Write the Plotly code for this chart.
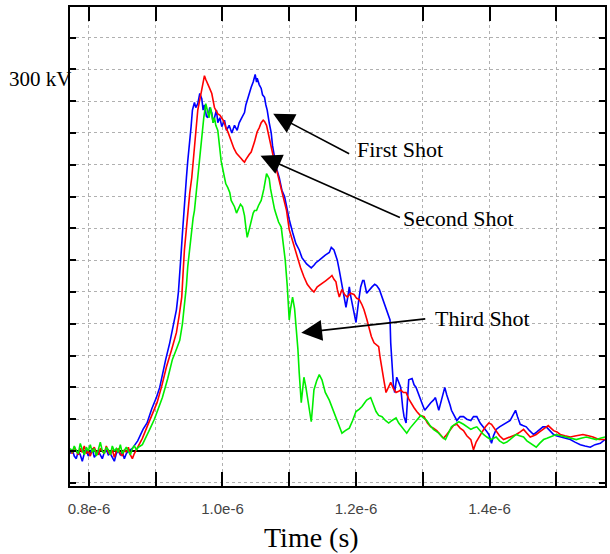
import plotly.graph_objects as go

# ---------------- data (time in ns, voltage in kV) ----------------
blue_t = [772, 775, 778, 781, 784, 787, 790, 793, 796, 799, 802, 805, 808, 811, 814, 817,
          820, 823, 826, 829, 832, 835, 838, 841, 844, 847, 850, 853, 856, 859, 862, 865,
          869, 873, 881, 887, 894, 901, 906, 910, 915, 921, 926, 931, 934, 936, 938, 940,
          943, 946, 948, 951, 953, 955, 958, 960, 963, 966, 969, 971, 973, 976, 978, 981,
          984, 986, 988, 991, 993, 996, 999, 1003, 1006, 1010, 1014, 1018, 1022, 1025, 1029, 1033,
          1035, 1037, 1040, 1043, 1046, 1049, 1051, 1052, 1055, 1058, 1060, 1063, 1065, 1067, 1070, 1073,
          1075, 1078, 1081, 1085, 1089, 1093, 1097, 1100, 1105, 1110, 1115, 1119, 1126, 1133, 1137, 1140,
          1145, 1149, 1154, 1160, 1163, 1167, 1172, 1175, 1178, 1180, 1182, 1185, 1188, 1190, 1192, 1194,
          1197, 1200, 1204, 1207, 1210, 1212, 1216, 1220, 1224, 1228, 1231, 1235, 1237, 1240, 1242, 1246,
          1251, 1252, 1254, 1256, 1258, 1261, 1264, 1267, 1270, 1272, 1275, 1277, 1279, 1284, 1287, 1290,
          1294, 1297, 1300, 1303, 1307, 1312, 1316, 1319, 1322, 1324, 1328, 1333, 1336, 1339, 1341, 1343,
          1347, 1351, 1356, 1361, 1366, 1372, 1376, 1381, 1386, 1391, 1395, 1399, 1403, 1406, 1410, 1415,
          1421, 1426, 1431, 1435, 1439, 1442, 1446, 1450, 1455, 1460, 1466, 1471, 1476, 1480, 1485, 1490,
          1496, 1500, 1506, 1512, 1521, 1528, 1536, 1543, 1551, 1558, 1566, 1573]
blue_kv = [-2, 1, -4, -6, 0, -3, -8, -2, 1, -4, -1, 2, -5, -2, 0, -3,
           -6, -1, 1, -3, -2, -5, -8, -2, 0, -3, -1, -6, -2, 0, 1, 2,
           5, 8, 17, 22, 33, 42, 50, 61, 72, 85, 97, 111, 125, 137, 155, 171,
           197, 215, 228, 242, 255, 268, 274, 270, 273, 281, 277, 268, 272, 263, 262, 270,
           266, 258, 262, 268, 258, 262, 255, 260, 252, 256, 250, 256, 252, 258, 262, 266,
           272, 276, 280, 286, 290, 296, 290, 293, 288, 285, 280, 278, 272, 268, 258, 250,
           240, 231, 222, 215, 205, 200, 189, 182, 172, 163, 158, 152, 147, 144, 146, 148,
           150, 152, 154, 156, 160, 158, 150, 142, 134, 126, 121, 113, 122, 129, 122, 116,
           108, 101, 118, 129, 134, 134, 124, 127, 129, 131, 130, 127, 124, 119, 116, 111,
           103, 85, 64, 52, 46, 58, 54, 50, 34, 27, 22, 40, 56, 57, 52, 50,
           45, 40, 36, 32, 35, 38, 40, 42, 36, 32, 40, 50, 44, 40, 36, 32,
           28, 24, 27, 27, 25, 24, 27, 27, 22, 19, 16, 13, 6, 12, 17, 19,
           21, 23, 24, 28, 32, 27, 21, 20, 19, 16, 13, 15, 17, 19, 19, 16,
           13, 12, 11, 10, 9, 7, 5, 4, 3, 5, 6, 9]

red_t = [772, 775, 778, 781, 784, 787, 790, 793, 796, 799, 802, 805, 808, 811, 814, 817,
         820, 823, 826, 829, 832, 835, 838, 841, 844, 847, 850, 853, 856, 859, 862, 865,
         868, 871,
         875, 880, 887, 894, 902, 909, 916, 924, 931, 935, 939, 941, 943, 946, 948, 951,
         954, 956, 958, 960, 963, 966, 969, 971, 973, 975, 978, 980, 984, 986, 988, 990,
         993, 996, 999, 1001, 1003, 1005, 1008, 1011, 1013, 1017, 1021, 1025, 1028, 1031, 1033, 1035,
         1037, 1040, 1043, 1046, 1048, 1050, 1052, 1055, 1058, 1061, 1063, 1066, 1069, 1072, 1075, 1078,
         1081, 1085, 1088, 1092, 1096, 1100, 1106, 1112, 1117, 1122, 1127, 1133, 1137, 1142, 1148, 1155,
         1160, 1164, 1167, 1170, 1172, 1175, 1177, 1179, 1183, 1187, 1192, 1197, 1201, 1205, 1209, 1212,
         1216, 1219, 1223, 1227, 1231, 1234, 1236, 1239, 1242, 1245, 1249, 1252, 1256, 1260, 1264, 1267,
         1271, 1275, 1279, 1282, 1287, 1291, 1296, 1302, 1307, 1312, 1316, 1321, 1326, 1331, 1336, 1342,
         1346, 1351, 1356, 1361, 1366, 1372, 1376, 1380, 1384, 1389, 1394, 1399, 1403, 1407, 1410, 1415,
         1421, 1426, 1431, 1436, 1440, 1446, 1451, 1456, 1461, 1466, 1470, 1475, 1481, 1488, 1492, 1496,
         1501, 1506, 1513, 1521, 1530, 1540, 1548, 1555, 1564, 1573]
red_kv = [1, -2, 3, 0, -3, 2, -1, 4, -2, 0, -4, 1, 3, -1, -3, 2,
          0, -2, 4, -1, -3, 1, -5, 0, 2, -2, -4, 1, -1, 3, -3, -6,
          -2, 1,
          4, 10, 19, 28, 38, 51, 66, 80, 93, 106, 121, 140, 158, 175, 189, 203,
          215, 228, 242, 255, 268, 276, 284, 290, 295, 292, 289, 286, 281, 275, 270, 268,
          265, 264, 262, 260, 258, 254, 251, 247, 243, 238, 234, 232, 230, 228, 227, 229,
          231, 233, 235, 239, 243, 247, 251, 254, 258, 260, 259, 256, 248, 241, 234, 227,
          221, 213, 205, 197, 189, 174, 163, 152, 144, 137, 131, 127, 125, 129, 131, 134,
          136, 138, 135, 133, 127, 121, 124, 127, 123, 121, 124, 123, 120, 119, 115, 111,
          104, 97, 90, 85, 83, 82, 74, 66, 55, 46, 50, 54, 49, 46, 47, 48,
          46, 46, 41, 38, 34, 31, 28, 27, 22, 19, 18, 16, 13, 10, 13, 17,
          20, 21, 18, 16, 12, 9, 1, 7, 11, 15, 19, 22, 21, 18, 16, 12,
          9, 10, 11, 12, 13, 15, 17, 14, 11, 12, 13, 15, 17, 20, 18, 16,
          15, 13, 12, 11, 12, 13, 12, 11, 9, 9]

green_t = [772, 775, 778, 781, 784, 787, 790, 793, 796, 799, 802, 805, 808, 811, 814, 817,
           820, 823, 826, 829, 832, 835, 838, 841, 844, 847, 850, 853, 856, 859, 862, 865,
           868, 871, 874,
           880, 886, 891, 898, 904, 910, 918, 925, 931, 936, 940, 943, 946, 948, 951, 954,
           956, 958, 961, 963, 966, 969, 970, 972, 975, 977, 980, 982, 984, 986, 988, 990,
           993, 995, 998, 1003, 1005, 1008, 1011, 1013, 1016, 1018, 1021, 1024, 1027, 1030, 1033, 1035,
           1037, 1040, 1043, 1046, 1048, 1051, 1054, 1058, 1062, 1066, 1068, 1070, 1072, 1075, 1078, 1081,
           1084, 1088, 1091, 1094, 1097, 1100, 1102, 1105, 1108, 1110, 1113, 1115, 1118, 1120, 1122, 1125,
           1127, 1130, 1133, 1135, 1137, 1141, 1145, 1149, 1154, 1160, 1165, 1170, 1175, 1179, 1184, 1190,
           1195, 1200, 1205, 1209, 1213, 1216, 1222, 1226, 1230, 1234, 1239, 1244, 1249, 1254, 1260, 1264,
           1269, 1276, 1281, 1287, 1292, 1297, 1301, 1306, 1311, 1316, 1324, 1329, 1334, 1339, 1343, 1348,
           1354, 1361, 1366, 1372, 1376, 1381, 1386, 1391, 1396, 1402, 1406, 1410, 1415, 1421, 1426, 1431,
           1436, 1440, 1445, 1451, 1456, 1461, 1466, 1470, 1475, 1481, 1486, 1491, 1496, 1500, 1507, 1515,
           1522, 1530, 1537, 1545, 1552, 1560, 1566, 1573]
green_kv = [2, -1, 4, 0, -2, 6, 1, -3, 3, 0, 5, -1, 2, -4, 1, 7,
            0, -2, 3, 1, -3, 4, 0, 2, -1, 5, -2, 1, 3, 0, -3, 2,
            4, 1, 3,
            5, 11, 17, 25, 33, 42, 57, 72, 80, 87, 100, 113, 130, 145, 160, 176,
            183, 189, 205, 215, 229, 242, 252, 262, 273, 268, 262, 270, 265, 258, 262, 256,
            252, 240, 228, 215, 210, 207, 203, 197, 194, 192, 187, 190, 194, 192, 185, 176,
            168, 174, 182, 187, 189, 189, 193, 197, 206, 218, 216, 214, 206, 197, 190, 185,
            180, 176, 163, 150, 130, 103, 112, 121, 112, 100, 80, 61, 38, 48, 58, 50,
            44, 33, 23, 35, 48, 55, 60, 56, 46, 40, 33, 27, 20, 14, 16, 18,
            24, 31, 33, 35, 38, 40, 42, 36, 31, 28, 27, 24, 22, 24, 26, 22,
            19, 14, 18, 22, 25, 28, 26, 24, 20, 17, 14, 11, 9, 14, 19, 21,
            23, 21, 19, 17, 18, 19, 16, 13, 11, 9, 10, 11, 8, 6, 7, 9,
            11, 13, 12, 11, 8, 6, 4, 3, 6, 9, 10, 11, 12, 13, 12, 11,
            10, 9, 10, 11, 10, 9, 10, 11]

x_tick_vals = [0.8e-6, 0.9e-6, 1.0e-6, 1.1e-6, 1.2e-6, 1.3e-6, 1.4e-6, 1.5e-6]
x_tick_text = ["0.8e-6", "", "1.0e-6", "", "1.2e-6", "", "1.4e-6", ""]
y_tick_vals = [-25, 0, 25, 50, 75, 100, 125, 150, 175, 200, 225, 250, 275, 300, 325]

series = [("First Shot", blue_t, blue_kv, "#0000ff"),
          ("Second Shot", red_t, red_kv, "#ff0000"),
          ("Third Shot", green_t, green_kv, "#00ee00")]

fig = go.Figure()
for name, t, v, c in series:
    fig.add_trace(go.Scatter(x=[ti * 1e-9 for ti in t], y=v, mode="lines", name=name,
                             line=dict(color=c, width=1.6), showlegend=False))

serif = "Liberation Serif, Times New Roman, serif"

fig.update_layout(
    width=610, height=554,
    margin=dict(l=70, r=3, t=7, b=68),
    paper_bgcolor="white", plot_bgcolor="white",
    font=dict(family="Liberation Sans, Arial, sans-serif", color="#333", size=14),
)
fig.update_xaxes(
    range=[771.6e-9, 1573e-9], tickvals=x_tick_vals, ticktext=x_tick_text,
    ticks="inside", ticklen=14, tickwidth=1.5, tickcolor="black",
    showline=True, linecolor="black", linewidth=2, mirror="ticks",
    showgrid=True, gridcolor="#b0b0b0", griddash="dot", gridwidth=1,
    zeroline=False, tickfont=dict(size=15, color="#444"), ticklabelstandoff=8,
)
fig.update_yaxes(
    range=[-27.5, 349], tickvals=y_tick_vals, showticklabels=False,
    ticks="inside", ticklen=6, tickwidth=1.5, tickcolor="black",
    showline=True, linecolor="black", linewidth=2, mirror="ticks",
    showgrid=True, gridcolor="#b0b0b0", griddash="dot", gridwidth=1,
    zeroline=True, zerolinecolor="black", zerolinewidth=2,
)

# arrows (tip at x,y ; tail at ax,ay)
arrows = [(1076e-9, 265, 1192e-9, 233),
          (1057e-9, 232, 1268e-9, 183),
          (1118e-9, 93, 1306e-9, 104)]
for x, y, ax, ay in arrows:
    fig.add_annotation(x=x, y=y, ax=ax, ay=ay, xref="x", yref="y", axref="x", ayref="y",
                       text="", showarrow=True, arrowhead=2, arrowsize=2.6,
                       arrowwidth=1.6, arrowcolor="black")

labels = [("First Shot", 1198e-9, 237), ("Second Shot", 1268e-9, 183), ("Third Shot", 1315e-9, 104)]
for txt, x, y in labels:
    fig.add_annotation(x=x, y=y, xref="x", yref="y", text=txt, showarrow=False,
                       xanchor="left", yanchor="middle",
                       font=dict(family=serif, size=22, color="black"))

fig.add_annotation(x=0, y=300, xref="paper", yref="y", text="300 kV", showarrow=False,
                   xanchor="right", yanchor="middle", xshift=3, yshift=-10,
                   font=dict(family=serif, size=21, color="black"))
fig.add_annotation(x=0.4507, y=-0.1065, xref="paper", yref="paper", text="Time (s)",
                   showarrow=False, xanchor="center", yanchor="middle",
                   font=dict(family=serif, size=28, color="black"))

fig.write_html("out.html", config={"displayModeBar": False},
               post_script="document.body.style.margin='0px';")
